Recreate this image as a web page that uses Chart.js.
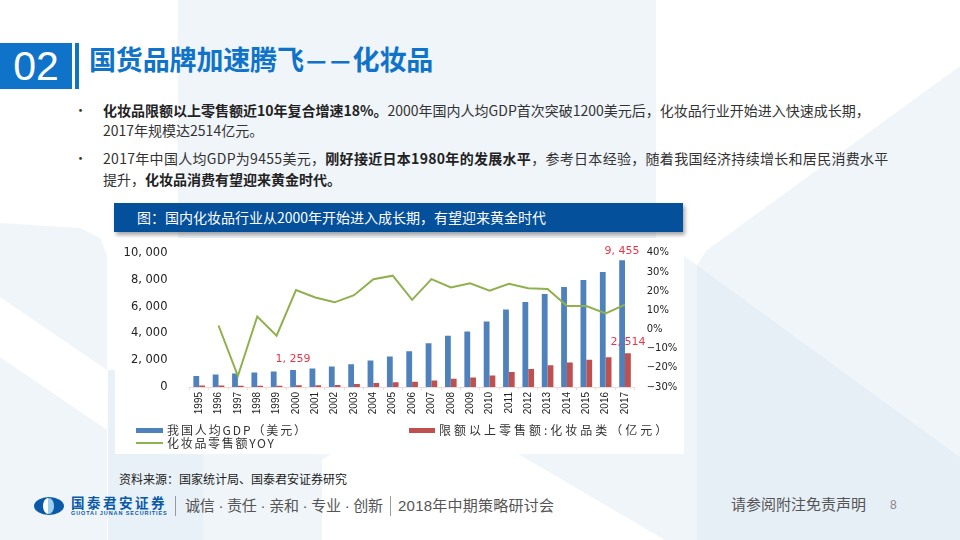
<!DOCTYPE html>
<html>
<head>
<meta charset="utf-8">
<script src="https://cdn.jsdelivr.net/npm/chart.js@4"></script>
<style>
html, body { margin: 0; padding: 0; }
body { width: 960px; height: 540px; position: relative; overflow: hidden; background: #fff;
  font-family: "Noto Sans CJK SC", sans-serif; color: #333; }
.abs { position: absolute; white-space: nowrap; }
.bg { position: absolute; }
.poly { position: absolute; left: 0; top: 0; width: 960px; height: 540px; }
.body { left: 103px; font-size: 14px; line-height: 22px; }
.legend { top: 422px; left: 167px; font-size: 12px; line-height: 16px; }
.foot { font-family: "Liberation Sans", "Noto Sans CJK SC", sans-serif; font-size: 15px; line-height: 20px; color: #555; top: 496px; }
.dash { display: inline-block; transform: scaleX(.82); }
b { color: #222; }
</style>
</head>
<body>
<!-- slide background shapes -->
<div class="poly" style="background:#f0f5fa;clip-path:polygon(178px 0,656px 0,656px 240px,322px 460px,322px 540px,178px 540px)"></div>
<div class="poly" style="background:#f0f5fa;clip-path:polygon(0 223px,80px 228px,100px 238px,107px 255px,107px 370px,0 297px)"></div>
<div class="poly" style="background:#f0f5fa;clip-path:polygon(0 357px,107px 430px,107px 540px,0 540px)"></div>
<div class="poly" style="background:#e9f1f8;clip-path:polygon(108px 370px,203px 370px,203px 540px,108px 540px)"></div>
<div class="poly" style="background:#f0f5fa;clip-path:polygon(960px 66px,707px 250px,697px 265px,960px 457px)"></div>
<div class="poly" style="background:#e6eef6;clip-path:polygon(697px 265px,960px 457px,960px 540px,697px 540px)"></div>
<div class="poly" style="background:#f0f5fa;clip-path:polygon(684px 256px,697px 265px,697px 540px,665px 540px,460px 420px)"></div>

<div class="abs" style="left:0;top:43px;width:72px;height:46px;background:#0f73c9;color:#fff;font:41px/46px 'Liberation Sans';text-align:center">02</div>
<div class="bg" style="left:75px;top:43px;width:4px;height:46px;background:#0f73c9"></div>
<div class="abs" style="left:89px;top:41px;font-size:27px;line-height:36px;font-weight:700;color:#0f73c9;letter-spacing:-.15px">国货品牌加速腾飞<span class="dash">—</span><span class="dash">—</span>化妆品</div>

<div class="abs" style="left:74px;top:99px;font-size:13px;line-height:22px">•</div>
<div class="abs body" style="top:99px"><b>化妆品限额以上零售额近10年复合增速18%。</b>2000年国内人均GDP首次突破1200美元后，化妆品行业开始进入快速成长期，</div>
<div class="abs body" style="top:119px">2017年规模达2514亿元。</div>
<div class="abs" style="left:74px;top:147px;font-size:13px;line-height:22px">•</div>
<div class="abs body" style="top:147px;letter-spacing:.3px">2017年中国人均GDP为9455美元，<b>刚好接近日本1980年的发展水平</b>，参考日本经验，随着我国经济持续增长和居民消费水平</div>
<div class="abs body" style="top:168px">提升，<b>化妆品消费有望迎来黄金时代。</b></div>

<div class="abs" style="left:114px;top:203px;width:569px;height:29px;background:#04509b;color:#fff;font-size:14px;line-height:29px;text-indent:23px;box-shadow:2px 3px 4px rgba(0,0,0,.35)">图：国内化妆品行业从2000年开始进入成长期，有望迎来黄金时代</div>

<div class="bg" style="left:115px;top:238px;width:569px;height:216px;background:#fff"></div>
<div class="bg" style="left:113px;top:224px;width:571px;height:230px"><canvas id="cosmeticsChart" width="571" height="230"></canvas></div>

<!-- legend -->
<div class="bg" style="left:136px;top:428px;width:27px;height:5px;background:#4f81bd"></div>
<div class="abs legend" style="letter-spacing:1.9px">我国人均GDP（美元）</div>
<div class="bg" style="left:409px;top:428px;width:26px;height:5px;background:#c0504d"></div>
<div class="abs legend" style="left:439px;letter-spacing:3px">限额以上零售额:化妆品类（亿元）</div>
<div class="bg" style="left:136px;top:442px;width:27px;height:2px;background:#8fb04c"></div>
<div class="abs legend" style="top:435px;letter-spacing:1.7px">化妆品零售额YOY</div>

<div class="abs" style="left:119px;top:471px;font-size:12px;line-height:16px;color:#222">资料来源：国家统计局、国泰君安证券研究</div>

<!-- footer -->
<div class="bg" style="left:34px;top:497px;width:30px;height:18px;border-radius:50%;background:#0a5aa8"></div>
<div class="bg" style="left:43px;top:498px;width:11px;height:16px;border-radius:50%;background:linear-gradient(90deg,#fff 50%,#9fd0f0 50%)"></div>
<div class="abs" style="left:71px;top:494px;font-size:13.5px;line-height:17px;font-weight:700;color:#0a5aa8;letter-spacing:2.5px">国泰君安证券</div>
<div class="abs" style="left:71px;top:510px;font:5.5px/7px 'Liberation Sans';font-weight:700;color:#0a5aa8;letter-spacing:.9px">GUOTAI JUNAN SECURITIES</div>
<div class="bg" style="left:175px;top:496px;width:1px;height:20px;background:#999"></div>
<div class="abs foot" style="left:185px;letter-spacing:-.25px">诚信 · 责任 · 亲和 · 专业 · 创新</div>
<div class="bg" style="left:390px;top:496px;width:1px;height:20px;background:#999"></div>
<div class="abs foot" style="left:398px;letter-spacing:.25px">2018年中期策略研讨会</div>
<div class="abs foot" style="left:731px;top:495px">请参阅附注免责声明</div>
<div class="abs" style="left:890px;top:497px;font:12px/16px 'Liberation Sans';color:#888">8</div>

<script>
const years = ['1995','1996','1997','1998','1999','2000','2001','2002','2003','2004','2005','2006','2007','2008','2009','2010','2011','2012','2013','2014','2015','2016','2017'];
const gdpValues = [815,938,1012,1086,1160,1259,1383,1531,1704,1975,2272,2667,3259,3827,4148,4889,5778,6345,6938,7457,7975,8570,9455];
const retailValues = [120,120,100,100,100,125,125,150,222,296,346,395,494,617,716,864,1111,1333,1630,1827,2025,2222,2514];
const yoyValues = [null,2.1,-24.3,6.8,-3.2,20.6,16.7,14.2,17.9,26.3,28.1,15.5,26.3,22,24.1,20.3,23.9,21.5,21.2,12.3,12.3,8.4,13];

// red value labels on the three marked bars
const valueLabels = {
    id: 'valueLabels',
    afterDatasetsDraw(chart) {
        const c = chart.ctx;
        const marks = [
            { ds: 0, i: 5, text: '1, 259', dy: -11 },
            { ds: 0, i: 22, text: '9, 455', dy: -9 },
            { ds: 1, i: 22, text: '2, 514', dy: -11 }
        ];
        c.save();
        c.fillStyle = '#e8374a';
        c.font = '11px "DejaVu Sans"';
        c.textAlign = 'center';
        c.textBaseline = 'middle';
        marks.forEach(m => {
            const el = chart.getDatasetMeta(m.ds).data[m.i];
            c.fillText(m.text, el.x, el.y + m.dy);
        });
        c.restore();
    }
};

new Chart(document.getElementById('cosmeticsChart').getContext('2d'), {
    type: 'bar',
    data: {
        labels: years,
        datasets: [
            { label: '我国人均GDP（美元）', data: gdpValues, backgroundColor: '#4f81bd', categoryPercentage: 0.6, barPercentage: 1, order: 2 },
            { label: '限额以上零售额:化妆品类（亿元）', data: retailValues, backgroundColor: '#c0504d', categoryPercentage: 0.6, barPercentage: 1, order: 2 },
            { type: 'line', label: '化妆品零售额YOY', data: yoyValues, yAxisID: 'y2', borderColor: '#8fb04c', borderWidth: 2, pointRadius: 0, tension: 0, order: 1 }
        ]
    },
    options: {
        responsive: false,
        animation: false,
        layout: { padding: { top: 3, bottom: 0, left: 0, right: 0 } },
        plugins: { legend: { display: false }, tooltip: { enabled: false } },
        scales: {
            x: {
                grid: { drawOnChartArea: false, drawTicks: true, tickLength: 3, color: '#f0d8d8' },
                border: { color: '#f0d8d8' },
                ticks: { color: '#222', font: { family: 'Liberation Sans', size: 10 }, minRotation: 90, maxRotation: 90, padding: 2, autoSkip: false },
                afterFit(scale) { scale.height = 67; }
            },
            y: {
                min: 0, max: 10000,
                grid: { display: false, drawTicks: false },
                border: { display: false },
                ticks: {
                    stepSize: 2000, padding: 22, color: '#222',
                    font: { family: 'DejaVu Sans', size: 11.5 },
                    callback: v => v.toLocaleString('en-US').replace(',', ', ')
                },
                afterFit(scale) { scale.width = 76.5; }
            },
            y2: {
                position: 'right',
                min: -30, max: 40,
                grid: { display: false, drawTicks: false },
                border: { display: false },
                ticks: {
                    stepSize: 10, padding: 12, color: '#222',
                    font: { family: 'DejaVu Sans', size: 10 },
                    callback: v => String(v).replace('-', '−') + '%'
                },
                afterFit(scale) { scale.width = 49.3; }
            }
        }
    },
    plugins: [valueLabels]
});
</script>
</body>
</html>
